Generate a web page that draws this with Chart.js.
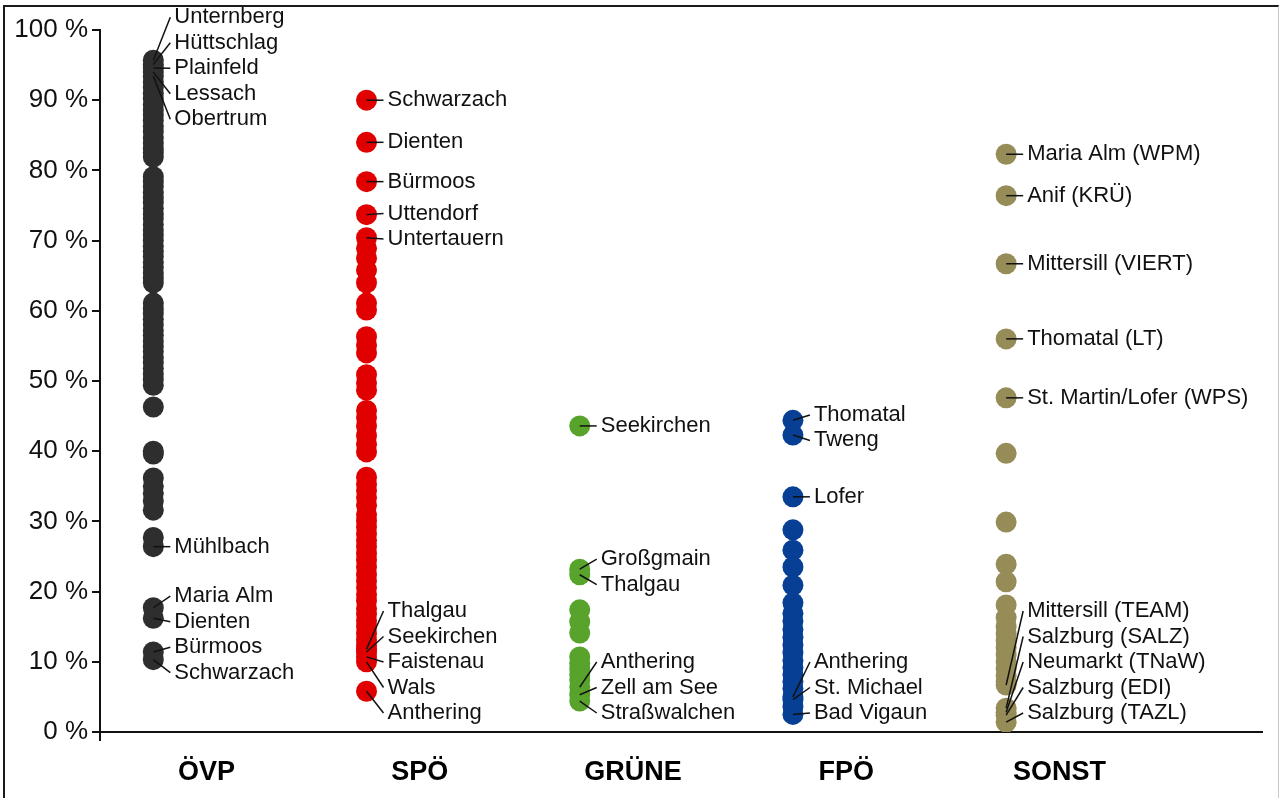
<!DOCTYPE html>
<html lang="de">
  <head>
    <meta charset="UTF-8" />
    <meta name="viewport" content="width=device-width, initial-scale=1.0" />
    <script src="https://cdn.jsdelivr.net/npm/chart.js"></script>
    <title>Gemeinden nach Partei</title>
    <style>
      html, body { margin: 0; padding: 0; background: #fff; }
      body { width: 1280px; height: 798px; overflow: hidden; position: relative; }
      #myChart { position: absolute; left: 0; top: 0; }
      #frame {
        position: absolute; left: 3px; top: 5px; width: 1273px; height: 900px;
        border-left: 2px solid #1a1a1a; border-top: 2px solid #1a1a1a;
        border-right: 1px solid #c8c8c8; pointer-events: none;
      }
    </style>
  </head>
  <body>
    <canvas id="myChart" width="1280" height="798"></canvas>
    <div id="frame"></div>
    <script>
      // categories + colours
      const parties = ["ÖVP", "SPÖ", "GRÜNE", "FPÖ", "SONST"];
      const partyColors = ["#2e2e2e", "#e00000", "#57a32b", "#063f94", "#968c58"];

      // results per municipality (%)
      const ovpValues = [
        95.7, 95.1, 94.6, 94.0, 93.4, 92.6, 91.8, 91.0, 90.2, 89.4, 88.6, 87.9,
        87.1, 86.3, 85.5, 84.7, 83.9, 83.1, 82.5, 81.9, 79.1, 78.4, 77.7, 76.9,
        76.1, 75.4, 74.6, 73.8, 73.1, 72.3, 71.5, 70.8, 70.0, 69.2, 68.5, 67.7,
        66.9, 66.2, 65.4, 64.7, 64.0, 61.1, 60.3, 59.6, 58.8, 58.0, 57.2, 56.5,
        55.7, 54.9, 54.2, 53.4, 52.6, 51.8, 51.0, 50.2, 49.4, 46.3, 40.0, 39.6,
        36.2, 35.0, 34.0, 32.9, 31.6, 27.7, 26.4, 17.7, 16.2, 11.4, 10.3
      ];
      const spoValues = [
        90.0, 84.0, 78.4, 73.7, 70.4, 68.9, 67.5, 65.8, 64.0, 61.1, 60.1, 56.3,
        55.1, 54.0, 50.9, 49.7, 48.7, 45.8, 44.8, 43.6, 42.2, 41.0, 39.9, 36.3,
        35.3, 34.4, 33.4, 32.3, 31.0, 30.1, 29.2, 28.2, 27.3, 26.4, 25.4, 24.5,
        23.5, 22.4, 21.5, 20.6, 19.6, 18.7, 17.6, 16.8, 15.9, 15.0, 14.0, 13.1,
        12.3, 11.8, 11.4, 10.7, 10.0, 5.8
      ];
      const grueneValues = [43.6, 23.2, 22.4, 17.4, 15.7, 14.1, 10.7, 9.8, 9.0, 8.2, 7.4, 6.4, 5.3, 4.4];
      const fpoValues = [
        44.4, 42.3, 33.5, 28.8, 25.9, 23.5, 20.9, 18.4, 16.9, 15.8, 14.6, 13.5,
        12.4, 11.3, 10.2, 9.2, 8.2, 7.2, 6.2, 5.0, 4.6, 3.6, 2.5
      ];
      const sonstValues = [
        82.3, 76.4, 66.7, 56.0, 47.6, 39.7, 29.9, 23.9, 21.4, 18.1, 16.3, 15.0,
        14.0, 13.0, 12.0, 11.0, 10.0, 9.0, 8.0, 7.2, 6.7, 3.4, 2.8, 2.4, 1.4
      ];

      // named municipalities (name + value they point to)
      const ovpLabelNames = ["Unternberg", "Hüttschlag", "Plainfeld", "Lessach", "Obertrum", "Mühlbach", "Maria Alm", "Dienten", "Bürmoos", "Schwarzach"];
      const ovpLabelValues = [95.7, 95.1, 94.6, 94.0, 93.4, 26.4, 17.7, 16.2, 11.4, 10.3];
      const spoLabelNames = ["Schwarzach", "Dienten", "Bürmoos", "Uttendorf", "Untertauern", "Thalgau", "Seekirchen", "Faistenau", "Wals", "Anthering"];
      const spoLabelValues = [90.0, 84.0, 78.4, 73.7, 70.4, 11.8, 11.4, 10.7, 10.0, 5.8];
      const grueneLabelNames = ["Seekirchen", "Großgmain", "Thalgau", "Anthering", "Zell am See", "Straßwalchen"];
      const grueneLabelValues = [43.6, 23.2, 22.4, 6.4, 5.3, 4.4];
      const fpoLabelNames = ["Thomatal", "Tweng", "Lofer", "Anthering", "St. Michael", "Bad Vigaun"];
      const fpoLabelValues = [44.4, 42.3, 33.5, 5.0, 4.6, 2.5];
      const sonstLabelNames = ["Maria Alm (WPM)", "Anif (KRÜ)", "Mittersill (VIERT)", "Thomatal (LT)", "St. Martin/Lofer (WPS)",
        "Mittersill (TEAM)", "Salzburg (SALZ)", "Neumarkt (TNaW)", "Salzburg (EDI)", "Salzburg (TAZL)"];
      const sonstLabelValues = [82.3, 76.4, 66.7, 56.0, 47.6, 6.7, 3.4, 2.8, 2.4, 1.4];

      const valueSets = [ovpValues, spoValues, grueneValues, fpoValues, sonstValues];
      const labelSets = [
        [ovpLabelNames, ovpLabelValues],
        [spoLabelNames, spoLabelValues],
        [grueneLabelNames, grueneLabelValues],
        [fpoLabelNames, fpoLabelValues],
        [sonstLabelNames, sonstLabelValues]
      ];

      const DOT_OFFSET = 0.25; // dots sit left of the category name

      // stack labels so they don't overlap, centred on their points
      function placeLabels(ys, gap, minY, maxY) {
        let groups = ys.map((y, k) => ({ idx: [k], sum: y, top: y }));
        let changed = true;
        while (changed) {
          changed = false;
          groups.forEach((g) => {
            const n = g.idx.length;
            let top = g.sum / n - ((n - 1) * gap) / 2;
            top = Math.min(top, maxY - (n - 1) * gap);
            g.top = Math.max(top, minY);
          });
          for (let k = 0; k < groups.length - 1; k++) {
            const a = groups[k], b = groups[k + 1];
            if (a.top + a.idx.length * gap > b.top + 0.01) {
              groups.splice(k, 2, { idx: a.idx.concat(b.idx), sum: a.sum + b.sum, top: 0 });
              changed = true;
              break;
            }
          }
        }
        const out = [];
        groups.forEach((g) => g.idx.forEach((k, j) => (out[k] = g.top + j * gap)));
        return out;
      }

      const leaderLabels = {
        id: "leaderLabels",
        afterDatasetsDraw(chart) {
          const ctx = chart.ctx;
          const xs = chart.scales.x, ys = chart.scales.y;
          const area = chart.chartArea;
          ctx.save();
          ctx.font = "22px Arial, 'Liberation Sans', sans-serif";
          ctx.fillStyle = "#111";
          ctx.strokeStyle = "#111";
          ctx.lineWidth = 1.5;
          ctx.textBaseline = "middle";
          ctx.textAlign = "left";
          labelSets.forEach(([names, vals], i) => {
            const cx = xs.getPixelForValue(i + DOT_OFFSET);
            const py = vals.map((v) => ys.getPixelForValue(v));
            const ly = placeLabels(py, 25.5, 0, area.bottom - 19);
            names.forEach((name, k) => {
              ctx.beginPath();
              ctx.moveTo(cx, py[k]);
              ctx.lineTo(cx + 17, ly[k]);
              ctx.stroke();
              ctx.fillText(name, cx + 21, ly[k]);
            });
          });
          // y axis runs a little below the x axis
          ctx.lineWidth = 2;
          ctx.beginPath();
          ctx.moveTo(area.left, area.bottom);
          ctx.lineTo(area.left, area.bottom + 9);
          ctx.stroke();
          ctx.restore();
        }
      };

      new Chart(document.getElementById("myChart"), {
        type: "scatter",
        data: {
          datasets: valueSets.map((vals, i) => ({
            label: parties[i],
            data: vals.map((v) => ({ x: i + DOT_OFFSET, y: v })),
            backgroundColor: partyColors[i],
            borderWidth: 0,
            pointRadius: 10.5,
            pointHoverRadius: 10.5
          }))
        },
        options: {
          responsive: false,
          animation: false,
          devicePixelRatio: 1,
          layout: { padding: { top: 30, right: 18, bottom: 0, left: 0 } },
          plugins: { legend: { display: false }, tooltip: { enabled: false } },
          scales: {
            x: {
              type: "linear",
              min: 0,
              max: 5.45,
              afterBuildTicks: (s) => { s.ticks = parties.map((p, i) => ({ value: i + 0.5 })); },
              afterFit: (s) => { s.height = 66; },
              grid: { display: false, drawTicks: false },
              border: { display: true, color: "#111", width: 2 },
              ticks: {
                autoSkip: false,
                maxRotation: 0,
                padding: 24,
                color: "#000",
                font: { family: "Arial", size: 27, weight: "bold" },
                callback: (v, i) => parties[i]
              }
            },
            y: {
              min: 0,
              max: 100,
              afterFit: (s) => { s.width = 100; },
              grid: { drawOnChartArea: false, drawTicks: true, tickLength: 8, color: "#111", lineWidth: 2 },
              border: { display: true, color: "#111", width: 2 },
              ticks: {
                stepSize: 10,
                padding: 4,
                color: "#111",
                font: { family: "Arial", size: 26 },
                callback: (v) => v + " %"
              }
            }
          }
        },
        plugins: [leaderLabels]
      });
    </script>
  </body>
</html>
